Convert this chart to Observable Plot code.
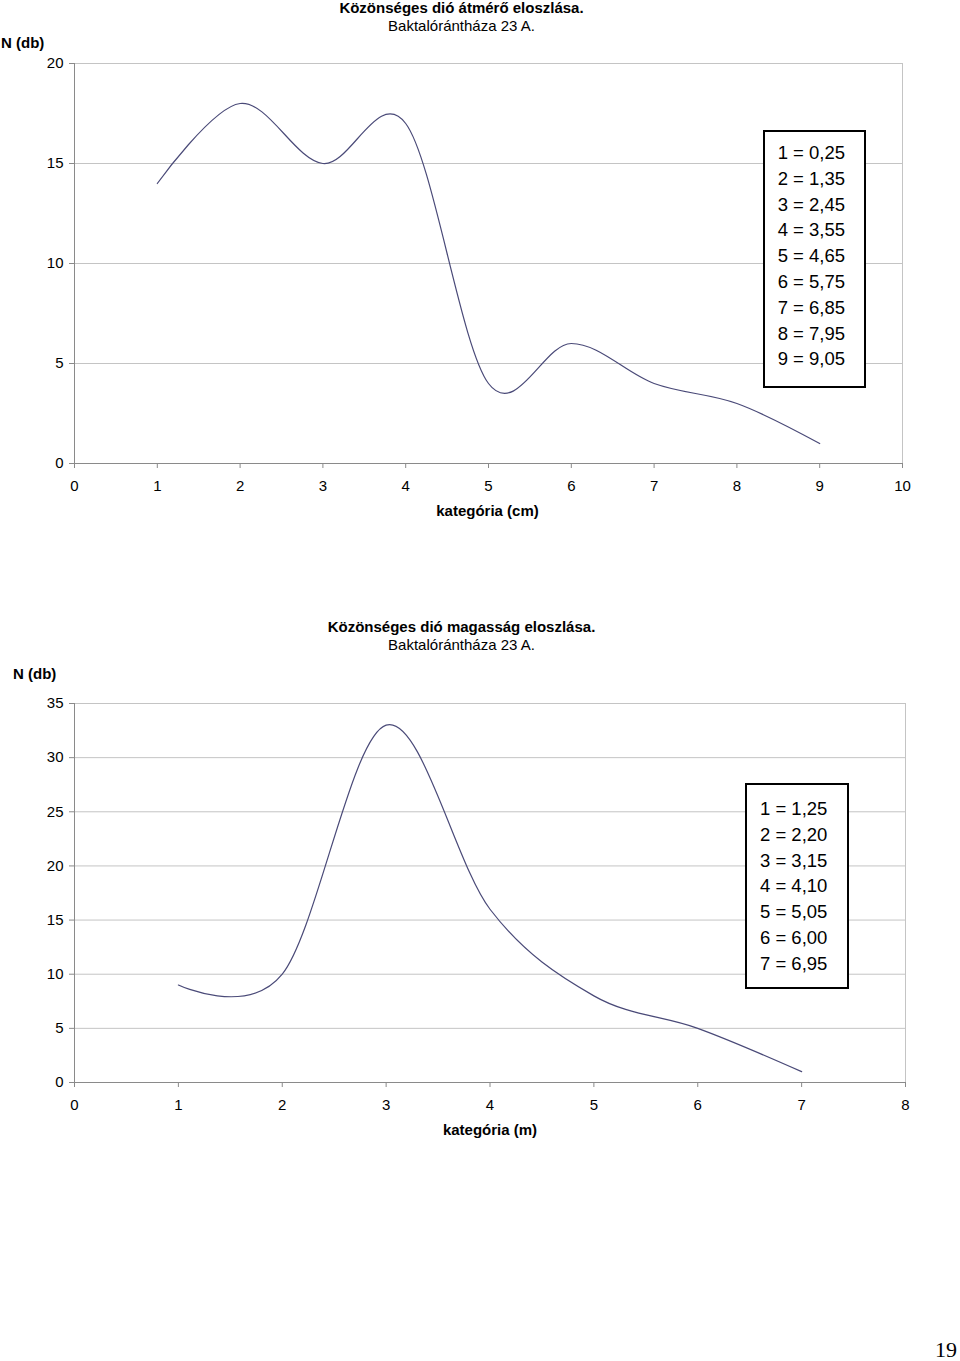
<!DOCTYPE html>
<html>
<head>
<meta charset="utf-8">
<script src="https://cdn.jsdelivr.net/npm/d3@7"></script>
<script src="https://cdn.jsdelivr.net/npm/@observablehq/plot@0.6"></script>
<style>
  html, body { margin: 0; padding: 0; background: #fff; }
  #page { position: relative; width: 960px; height: 1361px; overflow: hidden; font-family: 'Liberation Sans', Arial, sans-serif; color: #000; }
  .abs { position: absolute; white-space: nowrap; line-height: 15px; font-size: 15px; }
  .bold { font-weight: bold; }
  .center { transform: translateX(-50%); }
  .legend { position: absolute; box-sizing: border-box; border: 2px solid #000; background: #fff; }
  .legend .lines { position: absolute; font-size: 18.5px; line-height: 25.8px; white-space: nowrap; }
  .chart { position: absolute; left: 0; }
  .pagenum { position: absolute; font-family: 'Liberation Serif', 'Times New Roman', serif; font-size: 22px; line-height: 18px; white-space: nowrap; }
</style>
</head>
<body>
<div id="page"></div>
<script>
// ---- Data: chart 1 (diameter) ----
const diamCats = [1, 2, 3, 4, 5, 6, 7, 8, 9];
const diamCounts = [14, 18, 15, 17, 4, 6, 4, 3, 1];
const diamXTicks = [0, 1, 2, 3, 4, 5, 6, 7, 8, 9, 10];
const diamYTicks = [0, 5, 10, 15, 20];
const diamLegend = ["1 = 0,25", "2 = 1,35", "3 = 2,45", "4 = 3,55", "5 = 4,65", "6 = 5,75", "7 = 6,85", "8 = 7,95", "9 = 9,05"];
const diamTitle = "Közönséges dió átmérő eloszlása.";
const diamXLabel = "kategória (cm)";

// ---- Data: chart 2 (height) ----
const heightCats = [1, 2, 3, 4, 5, 6, 7];
const heightCounts = [9, 10, 33, 16, 8, 5, 1];
const heightXTicks = [0, 1, 2, 3, 4, 5, 6, 7, 8];
const heightYTicks = [0, 5, 10, 15, 20, 25, 30, 35];
const heightLegend = ["1 = 1,25", "2 = 2,20", "3 = 3,15", "4 = 4,10", "5 = 5,05", "6 = 6,00", "7 = 6,95"];
const heightTitle = "Közönséges dió magasság eloszlása.";
const heightXLabel = "kategória (m)";

const subtitle = "Baktalórántháza 23 A.";
const yLabel = "N (db)";
const pageNumber = "19";

const page = document.getElementById("page");

function chart(cats, counts, xTicks, yTicks, height, marginRight, marginBottom) {
  const data = cats.map((c, i) => ({c, n: counts[i]}));
  return Plot.plot({
    width: 960,
    height,
    marginLeft: 74,
    marginRight,
    marginTop: 63,
    marginBottom,
    x: {domain: [xTicks[0], xTicks[xTicks.length - 1]]},
    y: {domain: [yTicks[0], yTicks[yTicks.length - 1]]},
    style: {fontFamily: "'Liberation Sans', Arial, sans-serif", fontSize: "15px", color: "#000", background: "transparent", overflow: "visible"},
    marks: [
      Plot.gridY(yTicks.slice(1), {stroke: "#c4c4c4", strokeOpacity: 1}),
      Plot.ruleX([xTicks[xTicks.length - 1]], {stroke: "#c4c4c4"}),
      Plot.ruleY([yTicks[0]], {stroke: "#8a8a8a"}),
      Plot.ruleX([xTicks[0]], {stroke: "#8a8a8a"}),
      Plot.axisY(yTicks, {tickSize: 5, tickPadding: 6, stroke: "#8a8a8a", fill: "#000", fontSize: 15, label: null}),
      Plot.axisX(xTicks, {tickSize: 5, tickPadding: 12, stroke: "#8a8a8a", fill: "#000", fontSize: 15, label: null}),
      Plot.line(data, {x: "c", y: "n", curve: "cardinal", tension: 0, stroke: "#4a4a78", strokeWidth: 1.2})
    ]
  });
}

function addText(text, left, top, cls) {
  const d = document.createElement("div");
  d.className = "abs " + (cls || "");
  d.style.left = left + "px";
  d.style.top = top + "px";
  d.textContent = text;
  page.appendChild(d);
  return d;
}

function addLegend(lines, left, top, width, height, textLeft, textTop) {
  const box = document.createElement("div");
  box.className = "legend";
  Object.assign(box.style, {left: left + "px", top: top + "px", width: width + "px", height: height + "px"});
  const inner = document.createElement("div");
  inner.className = "lines";
  inner.style.left = textLeft + "px";
  inner.style.top = textTop + "px";
  lines.forEach(t => {
    const l = document.createElement("div");
    l.textContent = t;
    inner.appendChild(l);
  });
  box.appendChild(inner);
  page.appendChild(box);
}

// Chart 1
const c1 = chart(diamCats, diamCounts, diamXTicks, diamYTicks, 530, 58, 67);
c1.classList.add("chart");
c1.style.top = "0px";
page.appendChild(c1);
addText(diamTitle, 461.5, 0, "bold center");
addText(subtitle, 461.5, 18, "center");
addText(yLabel, 1, 35.3, "bold");
addText(diamXLabel, 487.5, 503.3, "bold center");
addLegend(diamLegend, 762.7, 130, 103.3, 257.7, 13, 8);

// Chart 2
const c2 = chart(heightCats, heightCounts, heightXTicks, heightYTicks, 500, 55, 58);
c2.classList.add("chart");
c2.style.top = "640px";
page.appendChild(c2);
addText(heightTitle, 461.5, 618.8, "bold center");
addText(subtitle, 461.5, 637.3, "center");
addText(yLabel, 13, 666.3, "bold");
addText(heightXLabel, 490, 1122.3, "bold center");
addLegend(heightLegend, 745, 783, 104, 206.3, 13, 11);

// Page number
const pn = document.createElement("div");
pn.className = "pagenum";
pn.textContent = pageNumber;
pn.style.right = "3px";
pn.style.top = "1341px";
page.appendChild(pn);
</script>
</body>
</html>
